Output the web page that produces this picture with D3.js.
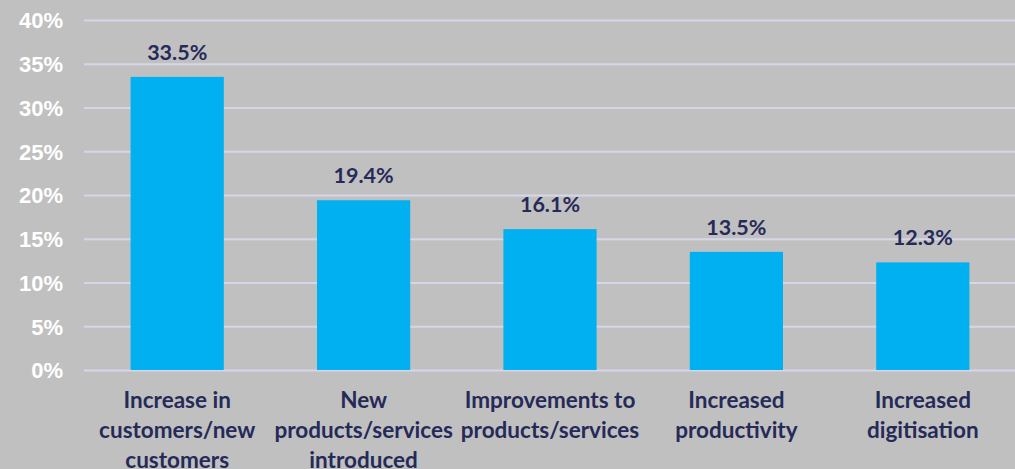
<!DOCTYPE html>
<html>
<head>
<meta charset="utf-8">
<script src="https://cdn.jsdelivr.net/npm/d3@7"></script>
<style>
  html, body { margin: 0; padding: 0; background: #c0c0c0; }
  svg { display: block; font-family: Lato, 'Noto Sans', sans-serif; font-weight: bold; }
  .axis-y text { fill: #ffffff; font-size: 22px; }
  .grid-y line { stroke: #d6d6ea; stroke-width: 2; }
  .value-label { fill: #262a58; font-size: 21.5px; }
  .cat-label { fill: #262a58; font-size: 22.5px; }
</style>
</head>
<body>
<div id="chart"></div>
<script>
const categories = [
  ['Increase in', 'customers/new', 'customers'],
  ['New', 'products/services', 'introduced'],
  ['Improvements to', 'products/services'],
  ['Increased', 'productivity'],
  ['Increased', 'digitisation']
];
const values = [33.5, 19.4, 16.1, 13.5, 12.3];
const yTicks = [0, 5, 10, 15, 20, 25, 30, 35, 40];

const width = 1015;
const height = 469;
const margin = { top: 20, right: -1, bottom: 99, left: 84 };
const plotWidth = width - margin.left - margin.right;
const plotHeight = height - margin.top - margin.bottom;

const svg = d3.select('#chart')
  .append('svg')
    .attr('width', width)
    .attr('height', height);

svg.append('rect')
  .attr('width', width)
  .attr('height', height)
  .attr('fill', '#c0c0c0');

const g = svg.append('g')
  .attr('transform', 'translate(' + margin.left + ',' + margin.top + ')');

const x = d3.scaleBand()
  .domain(d3.range(categories.length))
  .range([0, plotWidth])
  .paddingInner(0.5)
  .paddingOuter(0.25);

const y = d3.scaleLinear()
  .domain([0, 40])
  .range([plotHeight, 0]);

g.append('g')
  .attr('class', 'grid-y')
  .call(d3.axisRight(y)
    .tickValues(yTicks)
    .tickFormat('')
    .tickSize(plotWidth))
  .call((sel) => sel.select('.domain').remove());

g.append('g')
  .attr('class', 'axis-y')
  .call(d3.axisLeft(y)
    .tickValues(yTicks)
    .tickFormat((d) => d + '%')
    .tickSize(0)
    .tickPadding(21))
  .call((sel) => sel.select('.domain').remove())
  .selectAll('text')
    .attr('font-family', null)
    .attr('font-size', null)
    .attr('dy', '0.36em');

g.append('g')
  .attr('class', 'bars')
  .selectAll('rect')
  .data(values)
  .enter().append('rect')
    .attr('x', (d, i) => x(i))
    .attr('y', (d) => y(d))
    .attr('width', x.bandwidth())
    .attr('height', (d) => plotHeight - y(d))
    .attr('fill', '#00b0f0');

g.append('g')
  .selectAll('text')
  .data(values)
  .enter().append('text')
    .attr('class', 'value-label')
    .attr('x', (d, i) => x(i) + x.bandwidth() / 2)
    .attr('y', (d) => y(d) - 17)
    .attr('text-anchor', 'middle')
    .text((d) => d.toFixed(1) + '%');

const catGroups = g.append('g')
  .selectAll('text')
  .data(categories)
  .enter().append('text')
    .attr('class', 'cat-label')
    .attr('text-anchor', 'middle')
    .attr('transform', (d, i) => 'translate(' + (x(i) + x.bandwidth() / 2) + ',' + (plotHeight + 38) + ')');

catGroups.selectAll('tspan')
  .data((d) => d)
  .enter().append('tspan')
    .attr('x', 0)
    .attr('y', (d, i) => i * 30)
    .text((d) => d);
</script>
</body>
</html>
